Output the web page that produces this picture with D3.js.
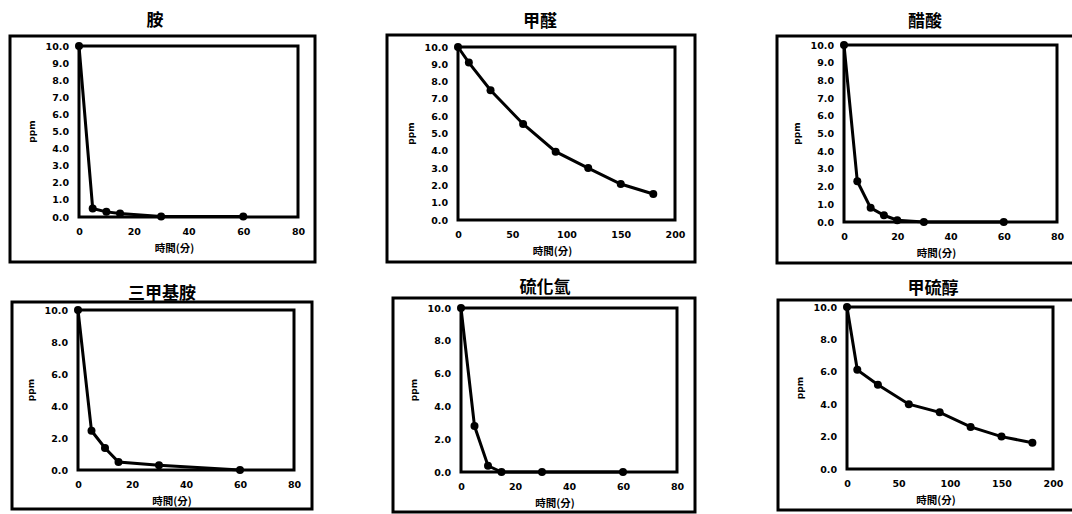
<!DOCTYPE html>
<html>
<head>
<meta charset="utf-8">
<script src="https://cdn.jsdelivr.net/npm/d3@7"></script>
<style>
  body { margin: 0; background: #fff; }
  .tick text { font-family: "DejaVu Sans", Arial, sans-serif; font-weight: bold; font-size: 9.5px; fill: #000; }
  .domain { display: none; }
</style>
</head>
<body>
<div id="charts"></div>
<script>
// chart titles
var titles = ["胺", "甲醛", "醋酸", "三甲基胺", "硫化氫", "甲硫醇"];

// time (minutes) of each measurement
var timeA = [0, 5, 10, 15, 30, 60];          // 胺
var timeB = [0, 10, 30, 60, 90, 120, 150, 180]; // 甲醛
var timeC = [0, 5, 10, 15, 20, 30, 60];      // 醋酸
var timeD = [0, 5, 10, 15, 30, 60];          // 三甲基胺
var timeE = [0, 5, 10, 15, 30, 60];          // 硫化氫
var timeF = [0, 10, 30, 60, 90, 120, 150, 180]; // 甲硫醇

// concentration (ppm)
var ppmA = [10.0, 0.5, 0.3, 0.2, 0.03, 0.03];
var ppmB = [10.0, 9.1, 7.5, 5.55, 3.95, 3.0, 2.08, 1.5];
var ppmC = [10.0, 2.3, 0.8, 0.38, 0.1, 0.0, 0.0];
var ppmD = [10.0, 2.45, 1.38, 0.5, 0.3, 0.0];
var ppmE = [10.0, 2.8, 0.38, 0.0, 0.0, 0.0];
var ppmF = [10.0, 6.12, 5.2, 4.0, 3.5, 2.6, 2.0, 1.62];

// tick labels
var xTicksShort = [0, 20, 40, 60, 80];
var xTicksLong = [0, 50, 100, 150, 200];
var yTicksFine = [0, 1, 2, 3, 4, 5, 6, 7, 8, 9, 10];
var yTicksCoarse = [0, 2, 4, 6, 8, 10];

var xTitle = "時間(分)";
var yTitle = "ppm";

var times = [timeA, timeB, timeC, timeD, timeE, timeF];
var values = [ppmA, ppmB, ppmC, ppmD, ppmE, ppmF];
var xTickSets = [xTicksShort, xTicksLong, xTicksShort, xTicksShort, xTicksShort, xTicksLong];
var yTickSets = [yTicksFine, yTicksFine, yTicksFine, yTicksCoarse, yTicksCoarse, yTicksCoarse];

// layout of each panel: outer frame, plot area, title position
var layout = [
  {frame: [10, 36, 315, 262], plot: [79, 46, 298, 217], title: [155, 26]},
  {frame: [387, 35, 695, 262], plot: [458, 47, 675, 220], title: [540, 27]},
  {frame: [777, 36, 1078, 263], plot: [844, 45, 1057, 222], title: [925, 27]},
  {frame: [12, 302, 312, 509], plot: [78, 310, 294, 470], title: [162, 299]},
  {frame: [393, 298, 695, 512], plot: [461, 308, 677, 472], title: [545, 293]},
  {frame: [778, 300, 1078, 510], plot: [847, 307, 1053, 469], title: [933, 294]}
];

var svg = d3.select("#charts")
  .append("svg")
  .attr("width", 1072)
  .attr("height", 514);

titles.forEach(function(name, i) {
  var L = layout[i];
  var p = L.plot;
  var w = p[2] - p[0], h = p[3] - p[1];
  var xMax = xTickSets[i][xTickSets[i].length - 1];

  // outer frame
  svg.append("rect")
    .attr("x", L.frame[0])
    .attr("y", L.frame[1])
    .attr("width", L.frame[2] - L.frame[0])
    .attr("height", L.frame[3] - L.frame[1])
    .attr("fill", "none")
    .attr("stroke", "#000")
    .attr("stroke-width", 3);

  // title
  svg.append("text")
    .attr("x", L.title[0])
    .attr("y", L.title[1])
    .attr("text-anchor", "middle")
    .attr("font-family", "'Noto Sans CJK TC', sans-serif")
    .attr("font-weight", "bold")
    .attr("font-size", 17)
    .text(name);

  var g = svg.append("g")
    .attr("transform", "translate(" + p[0] + "," + p[1] + ")");

  var x = d3.scaleLinear().domain([0, xMax]).range([0, w]);
  var y = d3.scaleLinear().domain([0, 10]).range([h, 0]);

  g.append("g")
    .attr("transform", "translate(0," + h + ")")
    .call(d3.axisBottom(x).tickValues(xTickSets[i]).tickSize(0).tickPadding(11).tickFormat(d3.format("d")));

  g.append("g")
    .call(d3.axisLeft(y).tickValues(yTickSets[i]).tickSize(0).tickPadding(10).tickFormat(d3.format(".1f")));

  // plot area border
  g.append("rect")
    .attr("width", w)
    .attr("height", h)
    .attr("fill", "none")
    .attr("stroke", "#000")
    .attr("stroke-width", 3);

  var pts = times[i].map(function(t, k) { return [t, values[i][k]]; });

  g.append("path")
    .datum(pts)
    .attr("fill", "none")
    .attr("stroke", "#000")
    .attr("stroke-width", 3)
    .attr("d", d3.line()
      .x(function(d) { return x(d[0]); })
      .y(function(d) { return y(d[1]); }));

  g.selectAll("circle")
    .data(pts)
    .enter()
    .append("circle")
    .attr("cx", function(d) { return x(d[0]); })
    .attr("cy", function(d) { return y(d[1]); })
    .attr("r", 4)
    .attr("fill", "#000");

  // axis titles
  g.append("text")
    .attr("x", w / 2 - 14)
    .attr("y", h + 35)
    .attr("text-anchor", "middle")
    .attr("font-family", "'Noto Sans CJK TC', sans-serif")
    .attr("font-weight", "bold")
    .attr("font-size", 10.5)
    .text(xTitle);

  g.append("text")
    .attr("transform", "translate(-44," + (h / 2) + ") rotate(-90)")
    .attr("text-anchor", "middle")
    .attr("font-family", "'DejaVu Sans', sans-serif")
    .attr("font-weight", "bold")
    .attr("font-size", 9)
    .text(yTitle);
});
</script>
</body>
</html>
